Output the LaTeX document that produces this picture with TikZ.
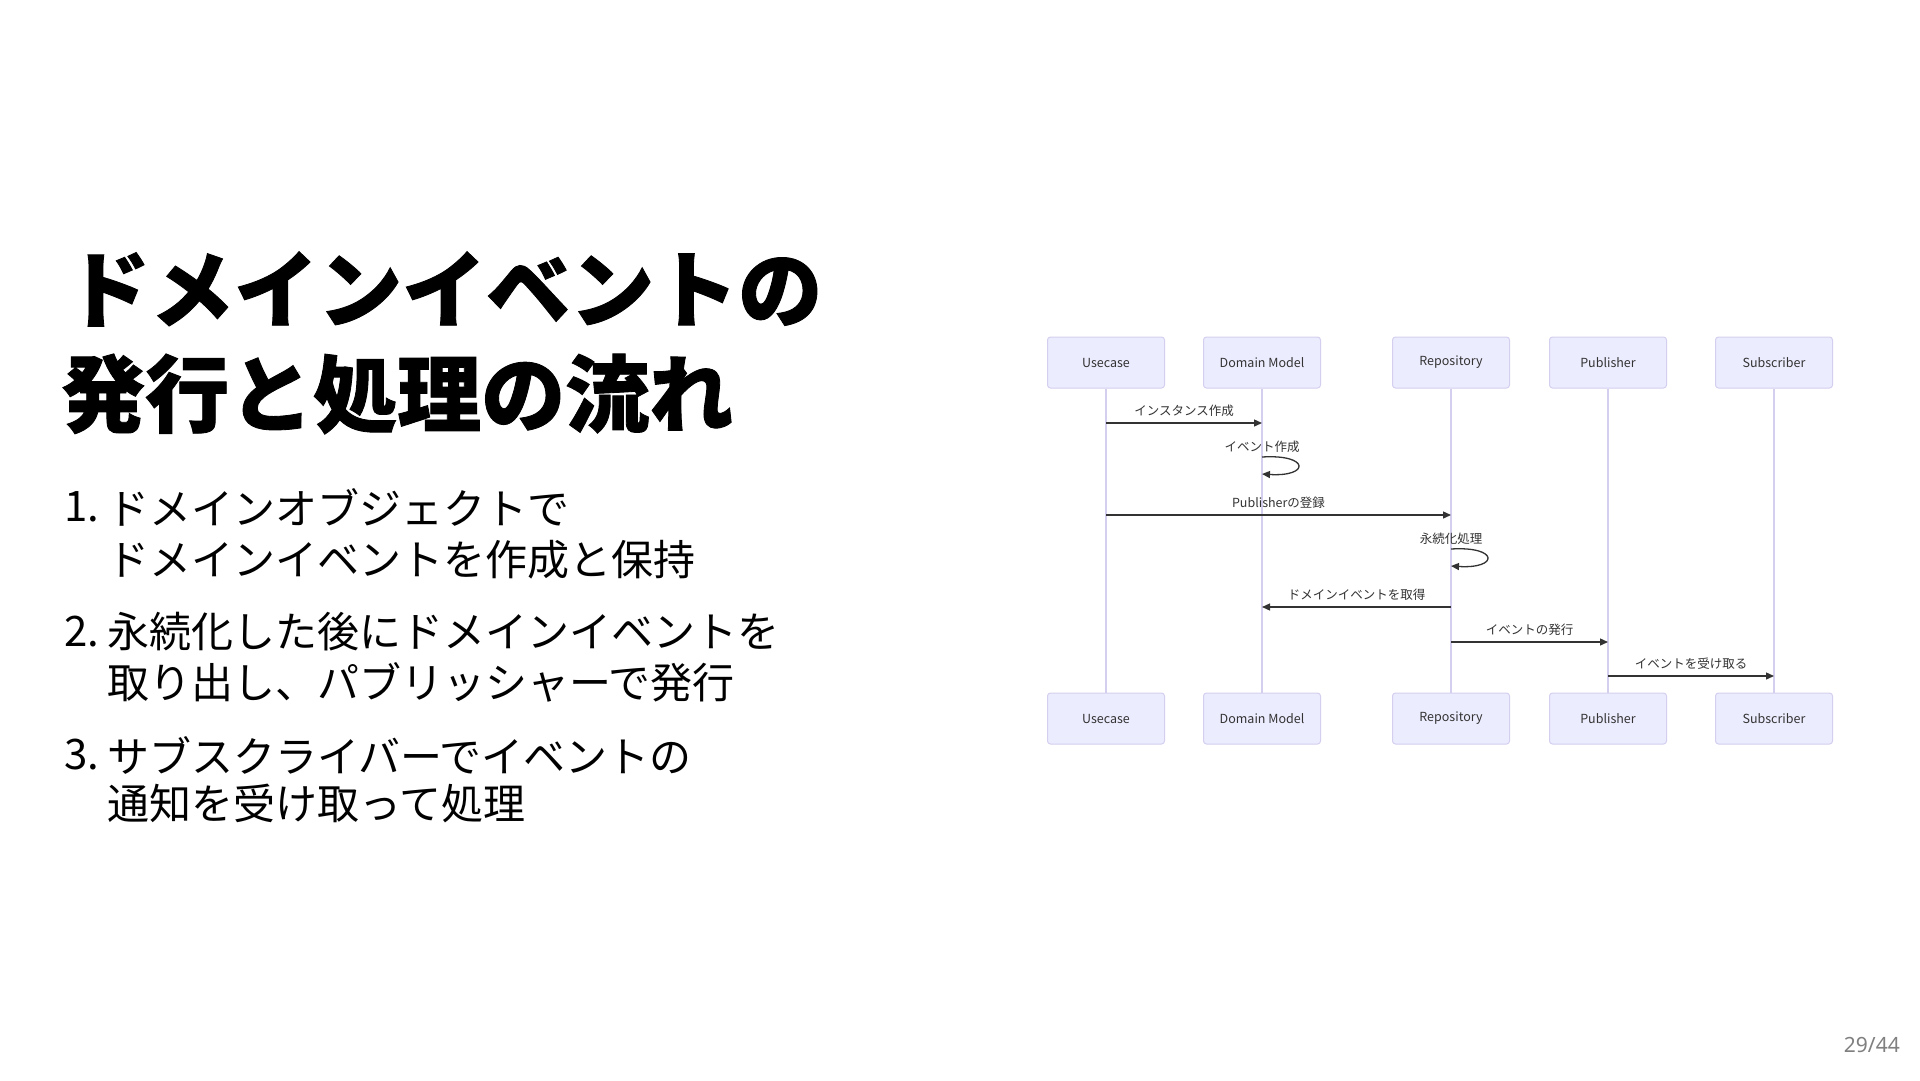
\documentclass[tikz,border=0pt]{standalone}
\usepackage{fontspec}
\setmainfont{Noto Sans CJK JP}[BoldFeatures={FakeBold=1.0}]
\newfontfamily\pagefont{Noto Sans}
\usepackage{xcolor}
\usepackage{tikz}
\usetikzlibrary{arrows.meta,positioning,calc}
\definecolor{actorbg}{HTML}{ECECFF}
\definecolor{actorline}{HTML}{D4CFEE}
\definecolor{msgcol}{HTML}{333333}

\begin{document}
\begin{tikzpicture}[
  x=1pt, y=-1pt,
  node distance=304pt,
  actor/.style={draw=actorline, fill=actorbg, line width=1pt, rounded corners=3pt, minimum width=117pt, minimum height=51pt, font=\fontsize{12.5}{15}\selectfont, text=msgcol},
  life/.style ={draw=actorline, line width=1.5pt},
  msg/.style  ={-{Triangle[length=8pt,width=7pt]}, line width=1.3pt, msgcol},
  lbl/.style  ={font=\fontsize{12.5}{15}\selectfont, text=msgcol, inner sep=1pt},
  headline/.style={anchor=west, inner sep=0pt, font=\fontsize{84}{100}\selectfont\bfseries},
  listline/.style={anchor=west, inner sep=0pt, font=\fontsize{42}{51}\selectfont},
]
  \fill[white] (0,0) rectangle (1920,1080);
  \useasboundingbox (0,0) rectangle (1920,1080);

  % title
  \node[headline] (title1) at (66,289) {ドメインイベントの};
  \node[headline] (title2) at (61,394) {発行と処理の流れ};

  % list
  \node[listline] (num1)  at (64,507)  {1.};
  \node[listline] (item1a) at (107,507) {ドメインオブジェクトで};
  \node[listline] (item1b) at (107,560) {ドメインイベントを作成と保持};
  \node[listline] (num2)  at (64,632)  {2.};
  \node[listline] (item2a) at (107,632) {永続化した後にドメインイベントを};
  \node[listline] (item2b) at (107,682) {取り出し、パブリッシャーで発行};
  \node[listline] (num3)  at (64,755)  {3.};
  \node[listline] (item3a) at (107,755) {サブスクライバーでイベントの};
  \node[listline] (item3b) at (107,803) {通知を受け取って処理};

  % actors
  \node[actor] (usecase-t) at (1106,362.5) {Usecase};
  \node[actor] (domain-t)  at (1262,362.5) {Domain Model};
  \node[actor] (repo-t)    at (1451,362.5) {Repository};
  \node[actor] (pub-t)     at (1608,362.5) {Publisher};
  \node[actor] (sub-t)     at (1774,362.5) {Subscriber};
  \node[actor, below=of usecase-t] (usecase-b) {Usecase};
  \node[actor, below=of domain-t]  (domain-b)  {Domain Model};
  \node[actor, below=of repo-t]    (repo-b)    {Repository};
  \node[actor, below=of pub-t]     (pub-b)     {Publisher};
  \node[actor, below=of sub-t]     (sub-b)     {Subscriber};

  \foreach \a in {usecase,domain,repo,pub,sub}
    \draw[life] (\a-t) -- (\a-b);

  % messages
  \coordinate (r1) at (0,423);
  \coordinate (r3) at (0,515);
  \coordinate (r5) at (0,607);
  \coordinate (r6) at (0,642);
  \coordinate (r7) at (0,676);
  \coordinate (loop1s) at (domain-t |- 0,457);
  \coordinate (loop1e) at (domain-t |- 0,474);
  \coordinate (loop2s) at (repo-t |- 0,549);
  \coordinate (loop2e) at (repo-t |- 0,566);

  \draw[msg] (usecase-t |- r1) -- node[lbl, yshift=12pt] {インスタンス作成} (domain-t |- r1);
  \draw[msg] (loop1s) node[lbl, yshift=10pt] {イベント作成}
    .. controls ($(loop1s)+(48,-3)$) and ($(loop1e)+(48,3)$) .. (loop1e);
  \draw[msg] (usecase-t |- r3) -- node[lbl, yshift=12pt] {Publisherの登録} (repo-t |- r3);
  \draw[msg] (loop2s) node[lbl, yshift=10pt] {永続化処理}
    .. controls ($(loop2s)+(48,-3)$) and ($(loop2e)+(48,3)$) .. (loop2e);
  \draw[msg] (repo-t |- r5) -- node[lbl, yshift=12pt] {ドメインイベントを取得} (domain-t |- r5);
  \draw[msg] (repo-t |- r6) -- node[lbl, yshift=12pt] {イベントの発行} (pub-t |- r6);
  \draw[msg] (pub-t |- r7) -- node[lbl, yshift=12pt] {イベントを受け取る} (sub-t |- r7);

  % page number
  \node[anchor=east, inner sep=0pt, font=\pagefont\fontsize{21}{25}\selectfont, text=black!50] (pageno) at (1900,1045) {29/44};
\end{tikzpicture}
\end{document}
